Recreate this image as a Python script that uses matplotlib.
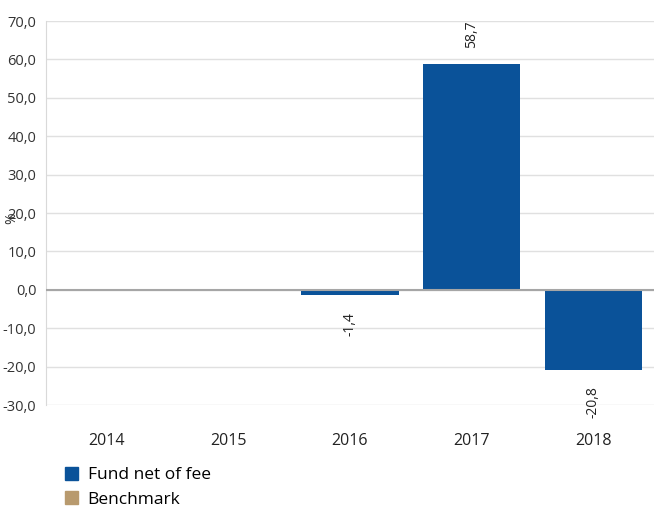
import numpy as np
import matplotlib.pyplot as plt
from matplotlib.patches import Patch

plt.rcParams['font.family'] = ['Open Sans', 'DejaVu Sans']

years = ['2014', '2015', '2016', '2017', '2018']
fund = [np.nan, np.nan, -1.4, 58.7, -20.8]
benchmark = [np.nan, np.nan, np.nan, np.nan, np.nan]
series_names = ['Fund net of fee', 'Benchmark']
yticks = [-30, -20, -10, 0, 10, 20, 30, 40, 50, 60, 70]

blue = '#0a5299'
tan = '#b89a6e'

fig = plt.figure(figsize=(6.54, 5.11), dpi=100)
ax = fig.add_axes([46 / 654, 1 - 405 / 511, 608 / 654, 384 / 511])

x = np.arange(len(years))
ax.bar(x, fund, width=0.8, color=blue, zorder=3)
ax.bar(x, benchmark, width=0.8, color=tan, zorder=3)

for xi, v in zip(x, fund):
    if np.isnan(v):
        continue
    lab = f'{v:.1f}'.replace('.', ',')
    off = 12 if v >= 0 else -12
    ax.annotate(lab, (xi, v), xytext=(0, off), textcoords='offset points',
                rotation=90, ha='center', va='bottom' if v >= 0 else 'top',
                fontsize=10, color='#222222')

ax.set_xlim(-0.5, len(years) - 0.5)
ax.set_ylim(-30, 70)
ax.set_yticks(yticks)
ax.set_yticklabels([f'{t:.1f}'.replace('.', ',') for t in yticks])
ax.set_xticks(x)
ax.set_xticklabels(years)
ax.tick_params(axis='y', length=0, pad=7, labelsize=10.5, labelcolor='#333333')
ax.tick_params(axis='x', length=0, pad=20, labelsize=11.5, labelcolor='#222222')

ax.grid(axis='y', color='#e0e0e0', linewidth=1, zorder=0)
ax.axhline(0, color='#a6a6a6', linewidth=1.5, zorder=4)
for s in ['top', 'right', 'bottom']:
    ax.spines[s].set_visible(False)
ax.spines['left'].set_color('#d9d9d9')

fig.text(12 / 654, 1 - 218 / 511, '%', rotation=90, ha='center', va='center',
         fontsize=10, color='#333333')

handles = [Patch(color=blue), Patch(color=tan)]
fig.legend(handles, series_names, loc='upper left',
           bbox_to_anchor=(65 / 654, 1 - 467 / 511), frameon=False,
           fontsize=12.5, handlelength=0.75, handleheight=0.75,
           handletextpad=0.55, labelspacing=0.45, borderpad=0,
           borderaxespad=0)

fig.savefig('out.png', dpi=100)
